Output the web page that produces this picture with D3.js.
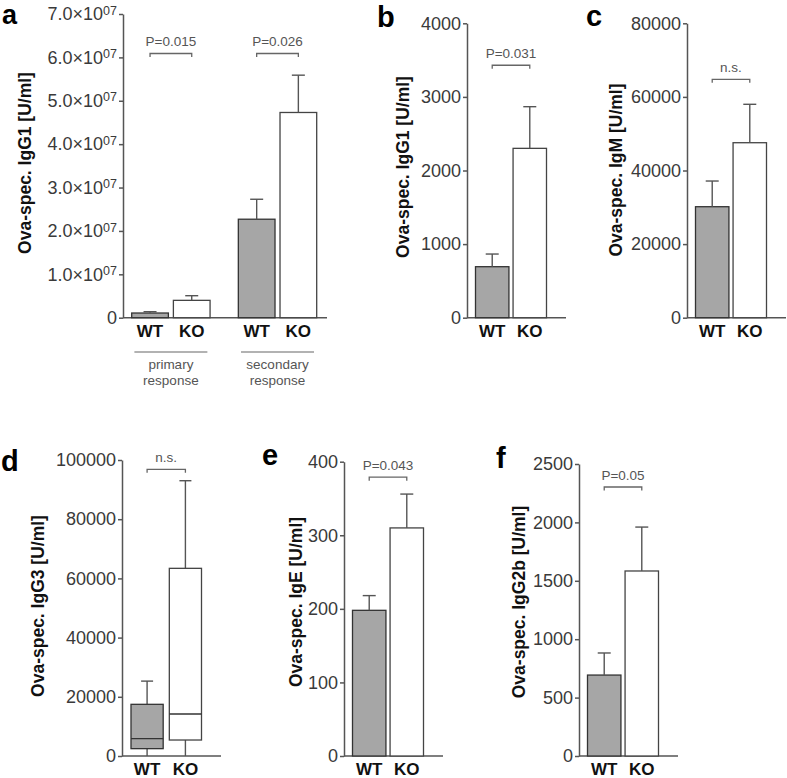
<!DOCTYPE html>
<html><head><meta charset="utf-8">
<script src="https://cdn.jsdelivr.net/npm/d3@7"></script>
<style>
html,body{margin:0;padding:0;background:#fff;}
svg{display:block;font-family:"Liberation Sans",Arial,Helvetica,sans-serif;}
</style></head><body>
<svg id="chart" width="787" height="778"></svg>
<script>
// ---------------- DATA ----------------
const genotypes = ["WT", "KO"];

// panel a: Ova-spec. IgG1, primary vs secondary response
const responseGroups = ["primary", "secondary"];
const responseLabels = [["primary", "response"], ["secondary", "response"]];
const aMean = [[1.08e6, 4.0e6], [2.27e7, 4.73e7]];
const aErrTop = [[1.38e6, 5.07e6], [2.73e7, 5.59e7]];
const aPvals = ["P=0.015", "P=0.026"];
const aBracketLevel = [6.09e7, 6.09e7];
const aTicks = [0, 1e7, 2e7, 3e7, 4e7, 5e7, 6e7, 7e7];

// panel b: IgG1
const bMean = [693, 2301];
const bErrTop = [865, 2867];
const bTicks = [0, 1000, 2000, 3000, 4000];
const bP = "P=0.031", bBracketLevel = 3430;

// panel c: IgM
const cMean = [30160, 47550];
const cErrTop = [37140, 57990];
const cTicks = [0, 20000, 40000, 60000, 80000];
const cP = "n.s.", cBracketLevel = 64780;

// panel d: IgG3 (box plot)
const dMin = [0, 0];
const dQ1 = [2480, 5400];
const dMedian = [5860, 14200];
const dQ3 = [17460, 63400];
const dMax = [25300, 93000];
const dTicks = [0, 20000, 40000, 60000, 80000, 100000];
const dP = "n.s.", dBracketLevel = 96860;

// panel e: IgE
const eMean = [198, 310];
const eErrTop = [218, 356];
const eTicks = [0, 100, 200, 300, 400];
const eP = "P=0.043", eBracketLevel = 379;

// panel f: IgG2b
const fMean = [693, 1584];
const fErrTop = [882, 1960];
const fTicks = [0, 500, 1000, 1500, 2000, 2500];
const fP = "P=0.05", fBracketLevel = 2303;

// ---------------- DRAWING ----------------
const svg = d3.select("#chart");
const AX = "#555", WTFILL = "#a6a6a6";

function yAxis(x0, yTop, y0, max, ticks, fmt) {
  const y = d3.scaleLinear().domain([0, max]).range([y0, yTop]);
  const g = svg.append("g").attr("transform", `translate(${x0},0)`)
    .call(d3.axisLeft(y).tickValues(ticks).tickSize(4).tickPadding(2).tickSizeOuter(0).tickFormat(fmt || d3.format("d")));
  g.select(".domain").attr("stroke", AX).attr("stroke-width", 1.5);
  g.selectAll(".tick line").attr("stroke", AX).attr("stroke-width", 1.5);
  g.selectAll(".tick text").attr("font-size", 18).attr("fill", "#3a3a3a")
    .attr("font-family", '"Liberation Sans",Arial,sans-serif');
  return {y, g};
}
function xLine(x0, x1, y0) {
  svg.append("line").attr("x1", x0).attr("x2", x1).attr("y1", y0).attr("y2", y0)
    .attr("stroke", AX).attr("stroke-width", 1.5);
}
function bar(x, w, y, v, i) {
  svg.append("rect").attr("x", x).attr("width", w).attr("y", y(v)).attr("height", y(0) - y(v))
    .attr("fill", i === 0 ? WTFILL : "#fff").attr("stroke", i === 0 ? "#333" : "#444").attr("stroke-width", 1.3);
}
function err(cx, y, v, top) {
  svg.append("line").attr("x1", cx).attr("x2", cx).attr("y1", y(v)).attr("y2", y(top))
    .attr("stroke", AX).attr("stroke-width", 1.4);
  svg.append("line").attr("x1", cx - 6.5).attr("x2", cx + 6.5).attr("y1", y(top)).attr("y2", y(top))
    .attr("stroke", AX).attr("stroke-width", 1.4);
}
function bracket(x1, x2, yv, label) {
  svg.append("path").attr("d", `M${x1},${yv + 3.5}V${yv}H${x2}V${yv + 3.5}`)
    .attr("fill", "none").attr("stroke", "#666").attr("stroke-width", 1.3);
  svg.append("text").attr("x", (x1 + x2) / 2).attr("y", yv - 7).attr("text-anchor", "middle")
    .attr("font-size", 13.5).attr("fill", "#555").text(label);
}
function catLabel(cx, y0, t) {
  svg.append("text").attr("x", cx).attr("y", y0 + 19).attr("text-anchor", "middle")
    .attr("font-size", 17).attr("font-weight", "bold").attr("fill", "#111").text(t);
}
function yLabel(cx, cy, t) {
  svg.append("text").attr("transform", `translate(${cx},${cy}) rotate(-90)`)
    .attr("text-anchor", "middle").attr("dominant-baseline", "central")
    .attr("font-size", 17.5).attr("font-weight", "bold").attr("fill", "#111").text(t);
}
function letter(x, y, t, fs) {
  svg.append("text").attr("x", x).attr("y", y).attr("font-size", fs || 29).attr("font-weight", "bold")
    .attr("fill", "#000").text(t);
}

// simple two-bar panel
function twoBar(o) {
  const {y} = yAxis(o.x0, o.yTop, o.y0, o.max, o.ticks);
  xLine(o.x0, o.x0 + 99, o.y0);
  const xs = d3.scaleBand().domain(genotypes).range([o.x0 + 8.5, o.x0 + 79.5]).paddingInner(0.11);
  genotypes.forEach((gname, i) => {
    bar(xs(gname), xs.bandwidth(), y, o.mean[i], i);
    err(xs(gname) + xs.bandwidth() / 2, y, o.mean[i], o.errTop[i]);
    catLabel(xs(gname) + xs.bandwidth() / 2, o.y0, gname);
  });
  bracket(xs("WT") + xs.bandwidth() / 2, xs("KO") + xs.bandwidth() / 2, y(o.bracket), o.p);
  yLabel(o.lx, o.ly, o.label);
  letter(o.letterX, o.letterY, o.letter);
}

// ---- panel a ----
(function () {
  const x0 = 123, yTop = 14, y0 = 317.7;
  const {y, g} = yAxis(x0, yTop, y0, 7e7, aTicks, d => d === 0 ? "0" : "");
  g.selectAll(".tick text").each(function (d) {
    if (d === 0) return;
    const t = d3.select(this);
    t.append("tspan").text((d / 1e7).toFixed(1) + "\u00d710");
    t.append("tspan").attr("dy", "-0.45em").attr("font-size", 12.5).text("07");
  });
  xLine(x0, x0 + 204, y0);
  const xo = d3.scaleBand().domain(responseGroups).range([131.7, 316.7]).paddingInner(0.265);
  const xi = d3.scaleBand().domain(genotypes).range([0, xo.bandwidth()]).paddingInner(0.12);
  responseGroups.forEach((grp, gi) => {
    genotypes.forEach((gname, i) => {
      const bx = xo(grp) + xi(gname);
      bar(bx, xi.bandwidth(), y, aMean[gi][i], i);
      err(bx + xi.bandwidth() / 2, y, aMean[gi][i], aErrTop[gi][i]);
      catLabel(bx + xi.bandwidth() / 2, y0, gname);
    });
    const c1 = xo(grp) + xi("WT") + xi.bandwidth() / 2, c2 = xo(grp) + xi("KO") + xi.bandwidth() / 2;
    bracket(c1, c2, y(aBracketLevel[gi]), aPvals[gi]);
    const gc = xo(grp) + xo.bandwidth() / 2;
    svg.append("line").attr("x1", gc - 36.5).attr("x2", gc + 36.5).attr("y1", 352).attr("y2", 352)
      .attr("stroke", "#999").attr("stroke-width", 1.5);
    responseLabels[gi].forEach((t, k) => {
      svg.append("text").attr("x", gc).attr("y", 369 + k * 16).attr("text-anchor", "middle")
        .attr("font-size", 13.5).attr("fill", "#555").text(t);
    });
  });
  yLabel(25, 163, "Ova-spec. IgG1 [U/ml]");
  letter(2, 24, "a", 27);
})();

twoBar({x0: 467, yTop: 23.3, y0: 317.7, max: 4000, ticks: bTicks, mean: bMean, errTop: bErrTop,
  bracket: bBracketLevel, p: bP, lx: 403, ly: 167, label: "Ova-spec. IgG1 [U/ml]", letterX: 377, letterY: 27, letter: "b"});
twoBar({x0: 687, yTop: 23.3, y0: 317.7, max: 80000, ticks: cTicks, mean: cMean, errTop: cErrTop,
  bracket: cBracketLevel, p: cP, lx: 616, ly: 170, label: "Ova-spec. IgM [U/ml]", letterX: 586, letterY: 26, letter: "c"});
twoBar({x0: 344, yTop: 461.7, y0: 756, max: 400, ticks: eTicks, mean: eMean, errTop: eErrTop,
  bracket: eBracketLevel, p: eP, lx: 296, ly: 602, label: "Ova-spec. IgE [U/ml]", letterX: 262, letterY: 465, letter: "e"});
twoBar({x0: 579, yTop: 464, y0: 756, max: 2500, ticks: fTicks, mean: fMean, errTop: fErrTop,
  bracket: fBracketLevel, p: fP, lx: 519, ly: 602, label: "Ova-spec. IgG2b [U/ml]", letterX: 496, letterY: 468, letter: "f"});

// ---- panel d: box plot ----
(function () {
  const x0 = 122, yTop = 460, y0 = 756;
  const {y} = yAxis(x0, yTop, y0, 100000, dTicks);
  const xs = d3.scaleBand().domain(genotypes).range([x0 + 9, x0 + 79.5]).paddingInner(0.16);
  genotypes.forEach((gname, i) => {
    const bx = xs(gname), bw = xs.bandwidth(), cx = bx + bw / 2;
    svg.append("line").attr("x1", cx).attr("x2", cx).attr("y1", y(dQ3[i])).attr("y2", y(dMax[i]))
      .attr("stroke", AX).attr("stroke-width", 1.4);
    svg.append("line").attr("x1", cx - 6).attr("x2", cx + 6).attr("y1", y(dMax[i])).attr("y2", y(dMax[i]))
      .attr("stroke", AX).attr("stroke-width", 1.4);
    svg.append("line").attr("x1", cx).attr("x2", cx).attr("y1", y(dQ1[i])).attr("y2", y(dMin[i]))
      .attr("stroke", AX).attr("stroke-width", 1.4);
    svg.append("rect").attr("x", bx).attr("width", bw).attr("y", y(dQ3[i])).attr("height", y(dQ1[i]) - y(dQ3[i]))
      .attr("fill", i === 0 ? WTFILL : "#fff").attr("stroke", i === 0 ? "#333" : "#444").attr("stroke-width", 1.3);
    svg.append("line").attr("x1", bx).attr("x2", bx + bw).attr("y1", y(dMedian[i])).attr("y2", y(dMedian[i]))
      .attr("stroke", "#333").attr("stroke-width", 1.4);
    catLabel(cx, y0, gname);
  });
  xLine(x0, x0 + 99, y0);
  bracket(xs("WT") + xs.bandwidth() / 2, xs("KO") + xs.bandwidth() / 2, y(dBracketLevel), dP);
  yLabel(38, 606, "Ova-spec. IgG3 [U/ml]");
  letter(1, 471, "d");
})();
</script>
</body></html>
